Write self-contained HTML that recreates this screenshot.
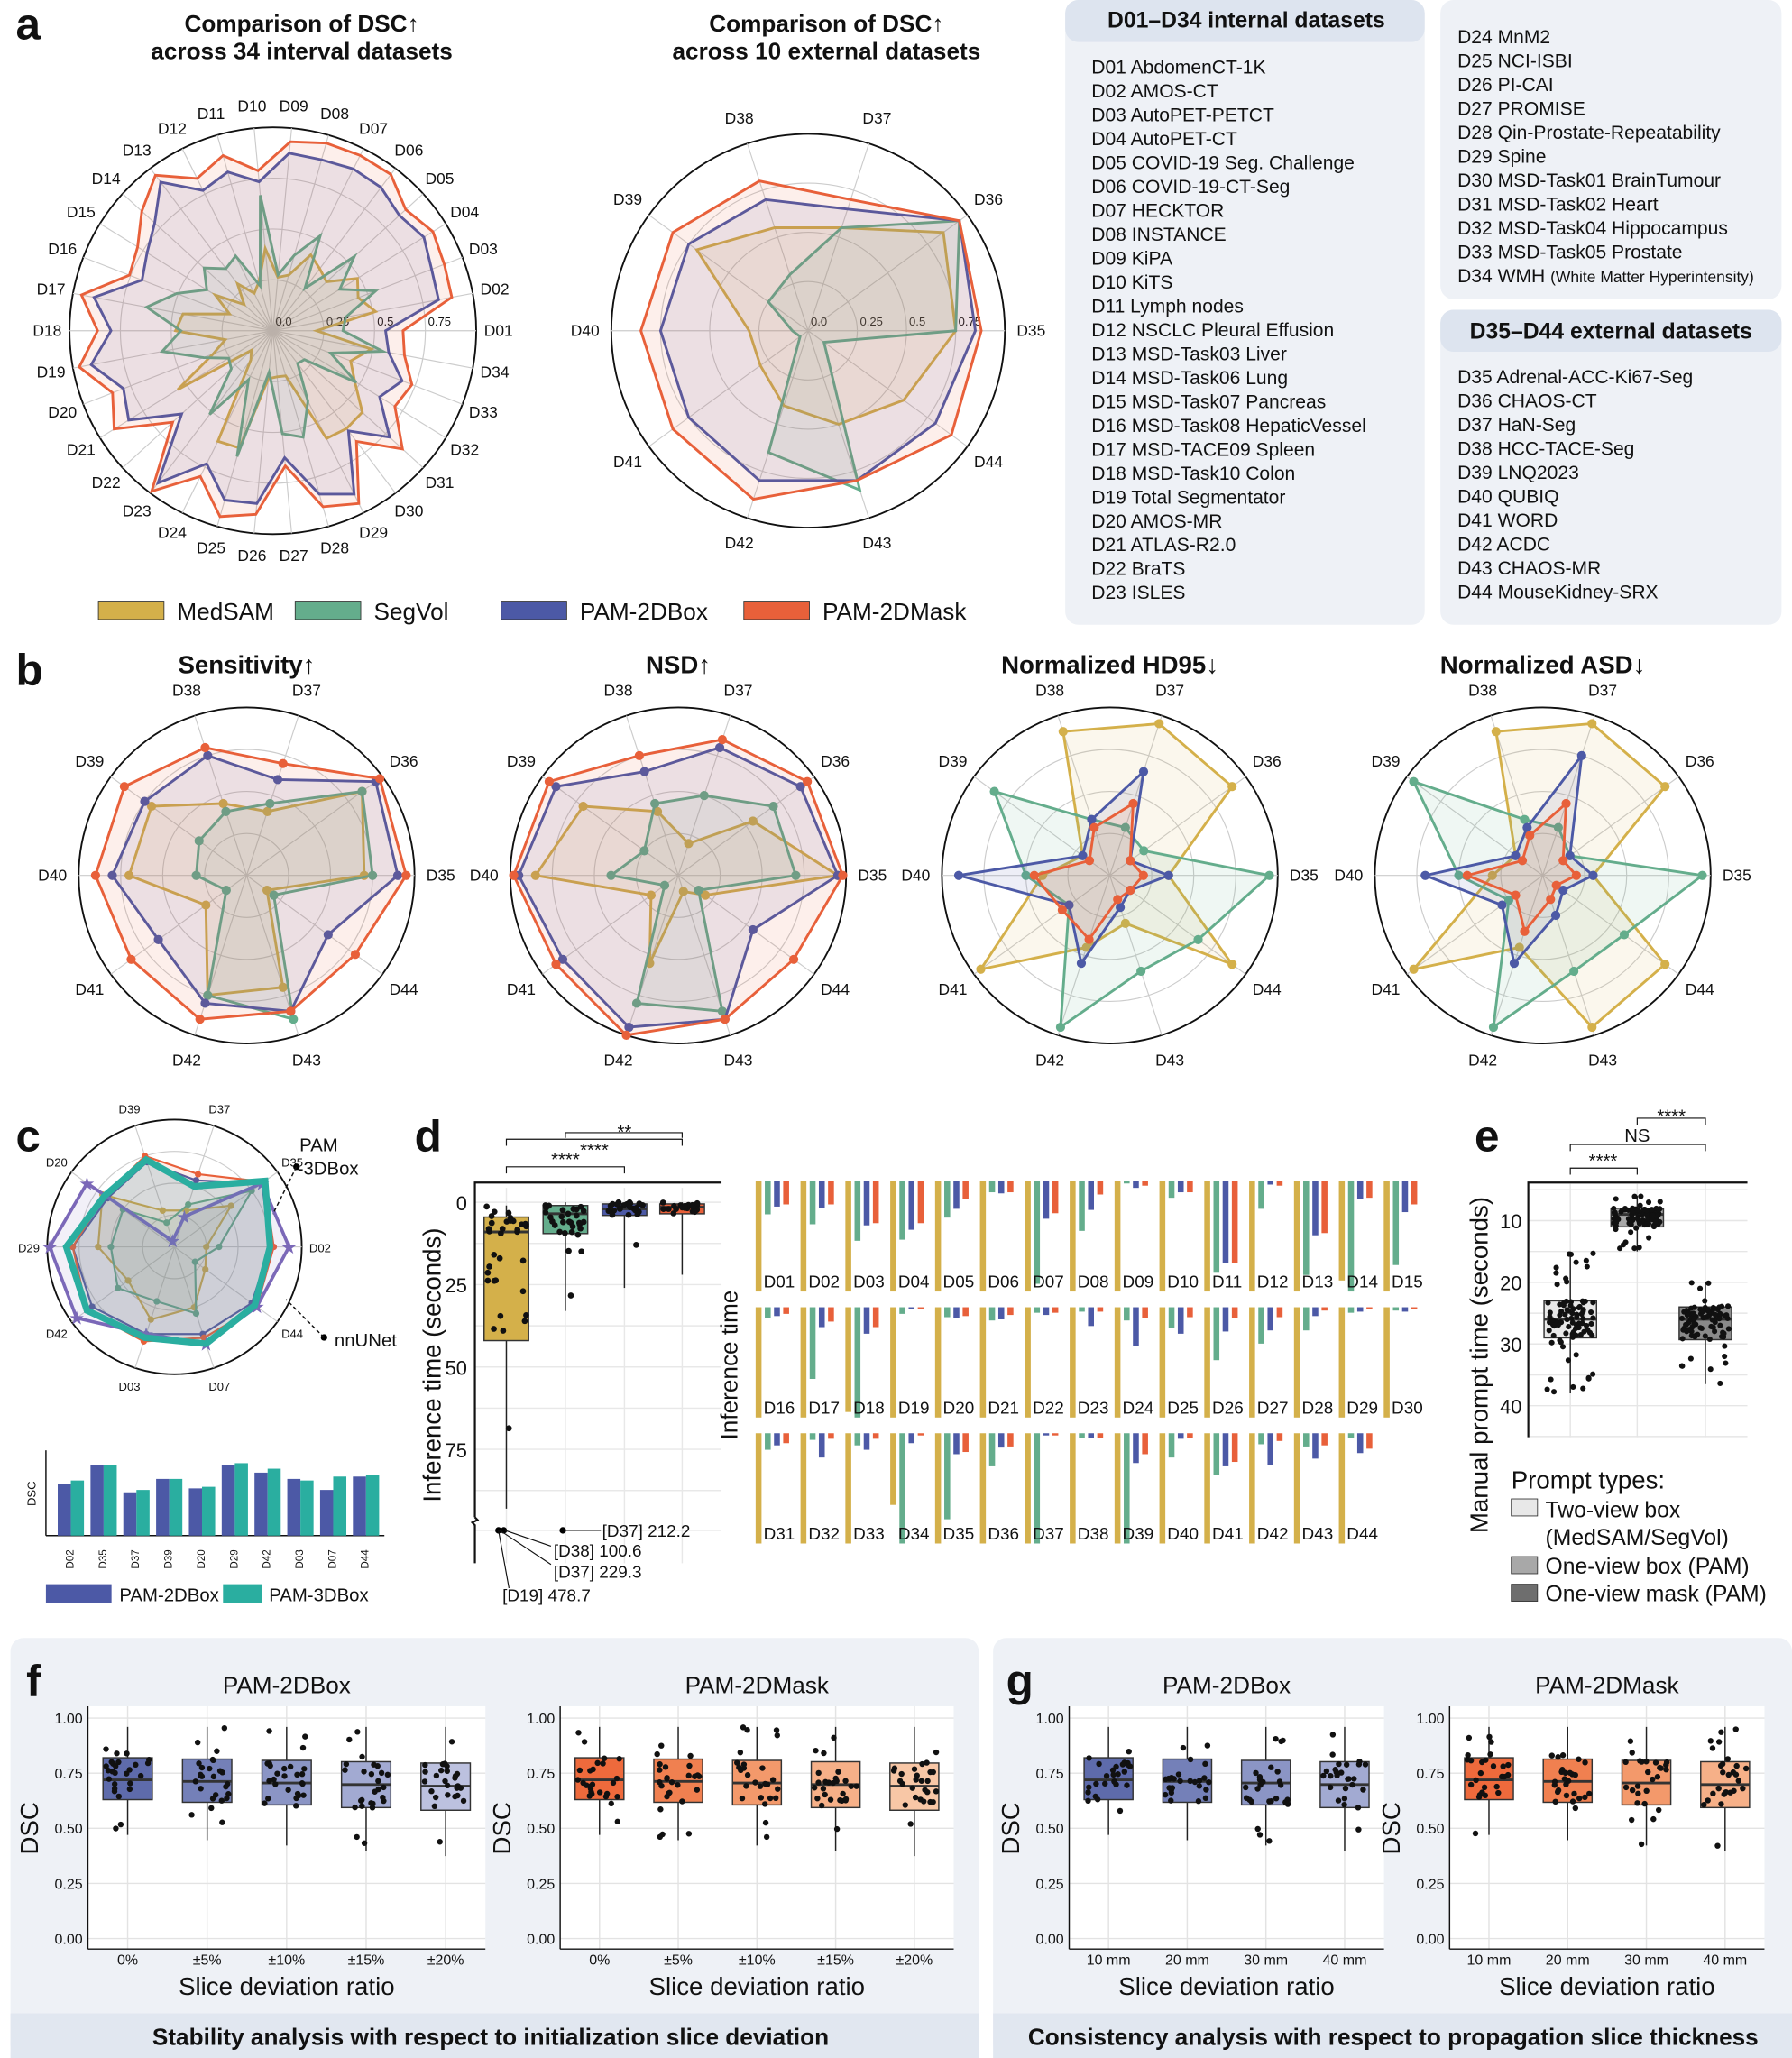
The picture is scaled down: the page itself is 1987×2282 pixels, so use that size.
<!DOCTYPE html>
<html><head><meta charset="utf-8"><style>
html,body{margin:0;padding:0;background:#fff}
svg{display:block}
text{font-family:"Liberation Sans",sans-serif}
</style></head><body>
<svg id="s" width="1987" height="2282" viewBox="0 0 1366 1568" preserveAspectRatio="none" xmlns="http://www.w3.org/2000/svg"></svg>
<script>
var Y='#d4b04a',G='#64ad8c',B='#4c59a6',O='#e8603a',P='#7b68b8',T='#2aaea0';
var o='';
function t(x,y,s,sz,opt){opt=opt||{};o+='<text x="'+x+'" y="'+y+'" font-size="'+sz+'" '+(opt.b?'font-weight="bold" ':'')+'text-anchor="'+(opt.a||'start')+'" fill="'+(opt.f||'#111')+'" '+(opt.r?'transform="rotate('+opt.r+' '+x+' '+y+')"':'')+'>'+s+'</text>';}
var seed=7;function rnd(){seed=(seed*16807)%2147483647;return seed/2147483647;}
function radar(cx,cy,r,labels,series,opt){
  opt=opt||{};var n=labels.length;
  for(var k=1;k<=4;k++)o+='<circle cx="'+cx+'" cy="'+cy+'" r="'+(r*k/4)+'" fill="none" stroke="#ccc" stroke-width="0.8"/>';
  o+='<circle cx="'+cx+'" cy="'+cy+'" r="'+r+'" fill="none" stroke="#111" stroke-width="1.3"/>';
  for(var i=0;i<n;i++){var a=i*2*Math.PI/n;o+='<line x1="'+cx+'" y1="'+cy+'" x2="'+(cx+r*Math.cos(a))+'" y2="'+(cy-r*Math.sin(a))+'" stroke="#ccc" stroke-width="0.8"/>';
    var lr=r+(opt.lo||16);t((cx+lr*Math.cos(a)).toFixed(1),(cy-lr*Math.sin(a)+4).toFixed(1),labels[i],opt.ls||12,{a:'middle'});}
  if(opt.ring){['0.0','0.25','0.5','0.75'].forEach(function(s,k){t(cx+r*k/4+2,cy-4,s,9);});}
  series.forEach(function(sr){var pts=sr.v.map(function(v,i){var a=i*2*Math.PI/n;return [cx+r*v*Math.cos(a),cy-r*v*Math.sin(a)];});
    var ps=pts.map(function(p){return p[0].toFixed(1)+','+p[1].toFixed(1);}).join(' ');
    o+='<polygon points="'+ps+'" fill="'+sr.c+'" fill-opacity="0.1" stroke="'+sr.c+'" stroke-width="'+(sr.w||2)+'"/>';
    if(sr.dot)pts.forEach(function(p){o+='<circle cx="'+p[0]+'" cy="'+p[1]+'" r="'+sr.dot+'" fill="'+sr.c+'"/>';});
    if(sr.star)pts.forEach(function(p){t(p[0],p[1]+5,'★',14,{a:'middle',f:sr.c});});
  });
}
function bx(x,w,q1,md,q3,lo,hi,c,yf,npt,sp){
  o+='<line x1="'+x+'" y1="'+yf(lo)+'" x2="'+x+'" y2="'+yf(hi)+'" stroke="#222"/>';
  o+='<rect x="'+(x-w/2)+'" y="'+Math.min(yf(q1),yf(q3))+'" width="'+w+'" height="'+Math.abs(yf(q3)-yf(q1))+'" fill="'+c+'" stroke="#333"/>';
  o+='<line x1="'+(x-w/2)+'" y1="'+yf(md)+'" x2="'+(x+w/2)+'" y2="'+yf(md)+'" stroke="#333" stroke-width="2"/>';
  for(var i=0;i<npt;i++){var u=rnd();var v=u<.5?q1+(md-q1)*u*2:md+(q3-md)*(u-.5)*2;var vv=rnd()<.2?(rnd()<.4?lo+(q1-lo)*rnd():q3+(hi-q3)*rnd()):v;o+='<circle cx="'+(x+(rnd()-.5)*w*0.9)+'" cy="'+yf(vv)+'" r="'+(sp||2.3)+'" fill="#111"/>';}
}
function yd(v){return 916+v*2.51;}
function ye(v){return 930+(v-10)*4.7;}
function chart(x0,x1,title,labels,cols){
  var yf=function(v){return 1477-v*168;};
  o+='<rect x="'+x0+'" y="1300" width="'+(x1-x0)+'" height="185" fill="#fff"/>';
  [0,.25,.5,.75,1].forEach(function(v){o+='<line x1="'+x0+'" y1="'+yf(v)+'" x2="'+x1+'" y2="'+yf(v)+'" stroke="#e3e3e3"/>';t(x0-4,yf(v)+4,v.toFixed(2),11,{a:'end'});});
  var n=labels.length,pw=(x1-x0)/n;
  labels.forEach(function(l,i){var x=x0+pw*(i+.5);o+='<line x1="'+x+'" y1="1300" x2="'+x+'" y2="1485" stroke="#e3e3e3"/>';t(x,1497,l,11,{a:'middle'});
    var d=i*0.012;bx(x,pw*0.62,.63-d,.72-d*.6,.82-d*.5,.47-d*2,.96,cols[i],yf,26,2.2);});
  o+='<line x1="'+x0+'" y1="1300" x2="'+x0+'" y2="1485" stroke="#111"/><line x1="'+x0+'" y1="1485" x2="'+x1+'" y2="1485" stroke="#111"/>';
  t((x0+x1)/2,1290,title,18,{a:'middle'});t((x0+x1)/2,1520,'Slice deviation ratio',19,{a:'middle'});t(x0-38,1393,'DSC',19,{a:'middle',r:-90});
}
// panel a
t(12,30,'a',34,{b:1});
t(230,24,'Comparison of DSC↑',18,{b:1,a:'middle'});t(230,45,'across 34 interval datasets',18,{b:1,a:'middle'});
t(630,24,'Comparison of DSC↑',18,{b:1,a:'middle'});t(630,45,'across 10 external datasets',18,{b:1,a:'middle'});
var L34=[];for(var i=1;i<=34;i++)L34.push('D'+String(i).padStart(2,'0'));
var s1=[[],[],[],[]];for(var i=0;i<34;i++){var m=0.6+0.35*rnd();s1[3].push(Math.min(.99,m+.04));s1[2].push(m-0.05*rnd());s1[1].push(0.2+0.5*rnd());s1[0].push(0.1+0.55*rnd());}
radar(208,252,155,L34,[{v:s1[0],c:Y},{v:s1[1],c:G},{v:s1[2],c:B},{v:s1[3],c:O}],{ring:1,lo:17});
var L10=['D35','D36','D37','D38','D39','D40','D41','D42','D43','D44'];
radar(616,252,150,L10,[{v:[.75,.85,.55,.55,.7,.3,.3,.4,.5,.6],c:Y},{v:[.75,.95,.55,.3,.25,.08,.05,.65,.85,.1],c:G},{v:[.85,.95,.65,.7,.75,.75,.75,.8,.8,.8],c:B},{v:[.88,.95,.7,.8,.85,.85,.85,.9,.8,.9],c:O}],{ring:1,lo:20});
[[Y,'MedSAM',75],[G,'SegVol',225],[B,'PAM-2DBox',382],[O,'PAM-2DMask',567]].forEach(function(l){o+='<rect x="'+l[2]+'" y="458" width="50" height="14" fill="'+l[0]+'" stroke="#333" stroke-width="0.6"/>';t(l[2]+60,472,l[1],18);});
o+='<rect x="812" y="0" width="274" height="476" rx="10" fill="#eef1f6"/><rect x="1098" y="0" width="260" height="228" rx="10" fill="#eef1f6"/><rect x="1098" y="236" width="260" height="240" rx="10" fill="#eef1f6"/>';
o+='<rect x="812" y="0" width="274" height="32" rx="10" fill="#dde4ef"/><rect x="1098" y="236" width="260" height="32" rx="10" fill="#dde4ef"/>';
t(950,21,'D01–D34 internal datasets',17,{b:1,a:'middle'});t(1228,258,'D35–D44 external datasets',17,{b:1,a:'middle'});
var n1=['AbdomenCT-1K','AMOS-CT','AutoPET-PETCT','AutoPET-CT','COVID-19 Seg. Challenge','COVID-19-CT-Seg','HECKTOR','INSTANCE','KiPA','KiTS','Lymph nodes','NSCLC Pleural Effusion','MSD-Task03 Liver','MSD-Task06 Lung','MSD-Task07 Pancreas','MSD-Task08 HepaticVessel','MSD-TACE09 Spleen','MSD-Task10 Colon','Total Segmentator','AMOS-MR','ATLAS-R2.0','BraTS','ISLES'];
n1.forEach(function(s,i){t(832,56+i*18.2,'D'+String(i+1).padStart(2,'0')+' '+s,14.5);});
var n2=['MnM2','NCI-ISBI','PI-CAI','PROMISE','Qin-Prostate-Repeatability','Spine','MSD-Task01 BrainTumour','MSD-Task02 Heart','MSD-Task04 Hippocampus','MSD-Task05 Prostate'];
n2.forEach(function(s,i){t(1111,33+i*18.2,'D'+(24+i)+' '+s,14.5);});
o+='<text x="1111" y="215" font-size="14.5" fill="#111">D34 WMH <tspan font-size="12">(White Matter Hyperintensity)</tspan></text>';
var n3=['Adrenal-ACC-Ki67-Seg','CHAOS-CT','HaN-Seg','HCC-TACE-Seg','LNQ2023','QUBIQ','WORD','ACDC','CHAOS-MR','MouseKidney-SRX'];
n3.forEach(function(s,i){t(1111,292+i*18.2,'D'+(35+i)+' '+s,14.5);});
// panel b
t(12,522,'b',34,{b:1});
var bt=['Sensitivity↑','NSD↑','Normalized HD95↓','Normalized ASD↓'];
var bd=[
[[.7,.85,.4,.45,.7,.7,.3,.75,.7,.15],[.75,.85,.45,.4,.35,.3,.15,.75,.9,.2],[.9,.95,.6,.75,.75,.8,.65,.8,.85,.6],[.95,.98,.7,.8,.9,.9,.85,.9,.85,.8]],
[[.95,.55,.2,.4,.7,.85,.2,.55,.1,.2],[.7,.7,.5,.45,.25,.4,.1,.8,.85,.15],[.95,.9,.8,.65,.9,.95,.85,.95,.9,.55],[.98,.95,.85,.75,.95,.98,.9,1,.9,.85]],
[[.35,.9,.95,.9,.2,.4,.95,.45,.3,.9],[.95,.25,.3,.35,.85,.5,.3,.95,.6,.65],[.35,.15,.65,.35,.2,.9,.3,.55,.2,.15],[.2,.15,.45,.3,.15,.45,.35,.4,.15,.15]],
[[.3,.9,.95,.9,.2,.3,.95,.45,.95,.9],[.95,.2,.3,.35,.95,.5,.25,.95,.6,.6],[.3,.2,.75,.3,.2,.7,.3,.55,.25,.15],[.2,.15,.45,.25,.15,.45,.2,.35,.15,.1]]];
[188,517,846,1176].forEach(function(cx,k){t(cx,513,bt[k],19,{b:1,a:'middle'});
 radar(cx,667,128,L10,[{v:bd[k][0],c:Y,dot:3.5},{v:bd[k][1],c:G,dot:3.5},{v:bd[k][2],c:B,dot:3.5},{v:bd[k][3],c:O,dot:3.5}],{lo:20});});
// panel c
t(12,877,'c',34,{b:1});
var Lc=['D02','D35','D37','D39','D20','D29','D42','D03','D07','D44'];
radar(133,950,97,Lc,[{v:[.25,.55,.3,.3,.7,.6,.45,.6,.5,.3],c:Y,dot:2.5,w:1.5},{v:[.35,.75,.35,.2,.5,.5,.55,.45,.55,.2],c:G,dot:2.5,w:1.5},
{v:[.75,.85,.55,.7,.65,.8,.8,.72,.72,.75],c:B,dot:2.5,w:1.5},{v:[.78,.87,.6,.75,.68,.8,.85,.78,.75,.8],c:O,dot:2.5,w:1.5},
{v:[.9,.85,.25,.05,.85,.98,.95,.72,.8,.8],c:P,star:1,w:2.5},{v:[.75,.88,.5,.72,.68,.85,.85,.75,.8,.78],c:T,w:5}],{lo:14,ls:9});
t(243,877,'PAM',14,{a:'middle'});t(250,895,'-3DBox',14,{a:'middle'});
o+='<circle cx="226" cy="889" r="2.5"/><line x1="226" y1="889" x2="208" y2="925" stroke="#111" stroke-dasharray="3,2"/>';
o+='<circle cx="247" cy="1019" r="2.5"/><line x1="247" y1="1019" x2="218" y2="990" stroke="#111" stroke-dasharray="3,2"/>';t(255,1026,'nnUNet',14);
o+='<line x1="35" y1="1105" x2="35" y2="1170" stroke="#111"/><line x1="35" y1="1170" x2="293" y2="1170" stroke="#111"/>';
t(27,1138,'DSC',9,{a:'middle',r:-90});
var cb=[[.66,.7],[.9,.9],[.55,.58],[.72,.72],[.6,.62],[.9,.92],[.8,.85],[.72,.7],[.58,.75],[.75,.77]];
cb.forEach(function(v,i){var x=44+i*25;o+='<rect x="'+x+'" y="'+(1170-v[0]*60)+'" width="10" height="'+(v[0]*60)+'" fill="'+B+'"/><rect x="'+(x+10)+'" y="'+(1170-v[1]*60)+'" width="10" height="'+(v[1]*60)+'" fill="'+T+'"/>';t(x+12,1188,Lc[i],8,{a:'middle',r:-90});});
o+='<rect x="35" y="1207" width="50" height="14" fill="'+B+'"/>';t(91,1220,'PAM-2DBox',14);o+='<rect x="170" y="1207" width="30" height="14" fill="'+T+'"/>';t(205,1220,'PAM-3DBox',14);
// panel d
t(316,877,'d',34,{b:1});
[12.5,37.5,62.5,87.5,0,25,50,75].forEach(function(v){o+='<line x1="362" y1="'+yd(v)+'" x2="550" y2="'+yd(v)+'" stroke="#e8e8e8"/>';});
o+='<line x1="362" y1="1166" x2="550" y2="1166" stroke="#e8e8e8"/>';
[386,431,476,520].forEach(function(x){o+='<line x1="'+x+'" y1="905" x2="'+x+'" y2="1191" stroke="#e8e8e8"/>';});
[0,25,50,75].forEach(function(v){t(356,yd(v)+6,v,15,{a:'end'});});
o+='<polyline points="550,901 362,901 362,1156" fill="none" stroke="#111" stroke-width="1.5"/><polyline points="362,1156 364,1158 360,1160 362,1162 362,1191" fill="none" stroke="#111" stroke-width="1.5"/>';
t(336,1040,'Inference time (seconds)',19,{a:'middle',r:-90});
bx(386,34,4.5,9,42,1,93,Y,yd,34);bx(431,34,1,3.5,9.5,0,33,G,yd,30);bx(476,34,0.5,2,4,0,26,B,yd,26);bx(520,34,0.5,1.5,3.5,0,22,O,yd,24);
o+='<circle cx="380" cy="1166" r="2.5"/><circle cx="384" cy="1166" r="2.5"/><circle cx="429" cy="1166" r="2.5"/>';
o+='<line x1="380" y1="1166" x2="388" y2="1210" stroke="#111" stroke-width="0.8"/><line x1="381" y1="1166" x2="420" y2="1192" stroke="#111" stroke-width="0.8"/><line x1="385" y1="1166" x2="420" y2="1178" stroke="#111" stroke-width="0.8"/><line x1="430" y1="1166" x2="458" y2="1166" stroke="#111" stroke-width="0.8"/>';
t(459,1171,'[D37] 212.2',13);t(422,1186,'[D38] 100.6',13);t(422,1202,'[D37] 229.3',13);t(383,1220,'[D19] 478.7',13);
o+='<path d="M386,894 V889 H476 V894 M386,873 V868 H520 V873 M431,867 V863 H520 V867" fill="none" stroke="#111" stroke-width="0.8"/>';
t(431,888,'****',14,{a:'middle'});t(453,881,'****',14,{a:'middle'});t(476,867,'**',14,{a:'middle'});
t(562,1040,'Inference time',18,{a:'middle',r:-90});
var bv=[[.3,.23,.21],[.39,.24,.21],[.54,.4,.38],[.53,.44,.38],[.33,.25,.16],[.1,.11,.1],[.93,.34,.29],[.45,.26,.12],[.02,.06,.04],[.15,.1,.1],[.83,.74,.74],[.25,.03,.04],[.85,.49,.47],[1,.16,.15],[.76,.28,.21],
[.1,.08,.06],[.65,.18,.13],[1,.24,.18],[.06,.01,.01],[.09,.1,.08],[.12,.11,.07],[.05,.07,.05],[.04,.17,.04],[.12,.35,.1],[.19,.24,.09],[.48,.22,.1],[.33,.21,.09],[.21,.08,.03],[.05,.04,.02],[.03,.04,.02],
[.15,.11,.09],[.06,.22,.05],[.11,.15,.05],[1,.09,.02],[.78,.19,.17],[.3,.13,.12],[1,.02,.02],[.04,.04,.04],[1,.27,.19],[.22,.05,.04],[.38,.3,.26],[.1,.29,.07],[.12,.23,.11],[.04,.18,.14]];
var yv={13:.9,17:.95,33:.65};
bv.forEach(function(v,i){var r=Math.floor(i/15),c=i%15;var x=576+c*34.2,y=[900,996,1092][r],H=84;
 var yy=yv[i]||1;o+='<rect x="'+x+'" y="'+y+'" width="4.5" height="'+(H*yy)+'" fill="'+Y+'"/>';
 [G,B,O].forEach(function(cl,j){o+='<rect x="'+(x+7+j*7)+'" y="'+y+'" width="4.5" height="'+Math.max(1,H*v[j])+'" fill="'+cl+'"/>';});
 t(x+6,y+81,'D'+String(i+1).padStart(2,'0'),13);});
// panel e
t(1124,877,'e',34,{b:1});
[5,15,25,35,45,10,20,30,40].forEach(function(v){o+='<line x1="1165" y1="'+ye(v)+'" x2="1332" y2="'+ye(v)+'" stroke="#e6e6e6"/>';});
[1197,1248,1300].forEach(function(x){o+='<line x1="'+x+'" y1="902" x2="'+x+'" y2="1095" stroke="#e6e6e6"/>';});
[10,20,30,40].forEach(function(v){t(1160,ye(v)+6,v,15,{a:'end'});});
o+='<polyline points="1332,901 1165,901 1165,1095" fill="none" stroke="#111" stroke-width="1.5"/>';
bx(1197,40,23,26,29,15,38,'#e8e8e8',ye,90,2.1);bx(1248,40,8,9,11,6,15,'#a8a8a8',ye,95,2.1);bx(1300,40,24,26,29.3,20,36.5,'#8a8a8a',ye,90,2.1);
o+='<path d="M1197,895 V890 H1248 V895 M1197,877 V872 H1300 V877 M1248,857 V852 H1300 V857" fill="none" stroke="#111" stroke-width="0.8"/>';
t(1222,889,'****',14,{a:'middle'});t(1248,870,'NS',14,{a:'middle'});t(1274,855,'****',14,{a:'middle'});
t(1134,1040,'Manual prompt time (seconds)',19,{a:'middle',r:-90});
t(1152,1134,'Prompt types:',19);
o+='<rect x="1152" y="1142" width="20" height="13" fill="#e8e8e8" stroke="#333" stroke-width="0.6"/><rect x="1152" y="1186" width="20" height="13" fill="#a8a8a8" stroke="#333" stroke-width="0.6"/><rect x="1152" y="1207" width="20" height="13" fill="#6e6e6e" stroke="#333" stroke-width="0.6"/>';
t(1178,1156,'Two-view box',17);t(1178,1177,'(MedSAM/SegVol)',17);t(1178,1199,'One-view box (PAM)',17);t(1178,1220,'One-view mask (PAM)',17);
// f g
o+='<rect x="8" y="1248" width="738" height="320" rx="10" fill="#eef1f6"/><rect x="757" y="1248" width="609" height="320" rx="10" fill="#eef1f6"/>';
o+='<rect x="8" y="1534" width="738" height="34" fill="#e1e7f0"/><rect x="757" y="1534" width="609" height="34" fill="#e1e7f0"/>';
t(20,1292,'f',34,{b:1});t(767,1292,'g',34,{b:1});
t(374,1558,'Stability analysis with respect to initialization slice deviation',18,{b:1,a:'middle'});
t(1062,1558,'Consistency analysis with respect to propagation slice thickness',18,{b:1,a:'middle'});
var bl=['#5e6bab','#7480b8','#8b95c5','#a2aad2','#bcc1df'],ol=['#ee6a3c','#f08050','#f3996b','#f6b088','#f8c7a6'];
chart(67,370,'PAM-2DBox',['0%','±5%','±10%','±15%','±20%'],bl);
chart(427,727,'PAM-2DMask',['0%','±5%','±10%','±15%','±20%'],ol);
chart(815,1055,'PAM-2DBox',['10 mm','20 mm','30 mm','40 mm'],bl);
chart(1105,1345,'PAM-2DMask',['10 mm','20 mm','30 mm','40 mm'],ol);
document.getElementById('s').innerHTML=o;
</script>
</body></html>
